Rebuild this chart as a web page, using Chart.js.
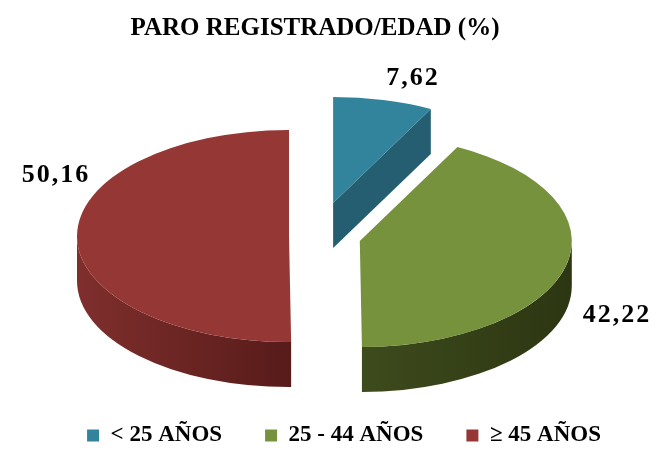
<!DOCTYPE html>
<html>
<head>
<meta charset="utf-8">
<style>
  html, body { margin: 0; padding: 0; background: #fff; }
  #wrap { width: 656px; height: 455px; }
</style>
<script src="https://cdn.jsdelivr.net/npm/chart.js@4/dist/chart.umd.js"></script>
</head>
<body>
<div id="wrap"><canvas id="pie"></canvas></div>
<script>
const categories = ['< 25 AÑOS', '25 - 44 AÑOS', '≥ 45 AÑOS']
const values = [7.62, 42.22, 50.16]

const topColors = ['#31849b', '#76923c', '#953735']
const cutColors = ['#245e70', '#2f3a14', '#571b19']
const rimColors = [
  ['#245e70', '#245e70'],
  ['#3e4b1c', '#2c3612'],
  ['#7f2f2d', '#571b19']
]
const explode = [68, 44, 28] // how far each slice is pulled out of the pie
const labelSpots = [[413, 78], [617, 315], [56, 175]]

const pieX = 317
const pieY = 236
const pieRadius = 212
const tilt = 0.5
const depth = 45
const serif = '"Liberation Serif", serif'

// Chart.js only knows flat pies, so the tilt and the sides are added here
const pie3d = {
  id: 'pie3d',
  afterDatasetsUpdate(chart) {
    chart.getDatasetMeta(0).data.forEach((arc, i) => {
      const mid = (arc.startAngle + arc.endAngle) / 2
      arc.x += Math.cos(mid) * explode[i]
      arc.y += Math.sin(mid) * explode[i]
    })
  },
  beforeDatasetDraw(chart) {
    const { ctx, chartArea } = chart
    const midX = (chartArea.left + chartArea.right) / 2
    const midY = (chartArea.top + chartArea.bottom) / 2
    chart.getDatasetMeta(0).data.forEach((arc, i) => {
      const sx = pieX + arc.x - midX
      const sy = pieY + (arc.y - midY) * tilt
      const r = arc.outerRadius

      // cut face, only visible when it turns towards the viewer
      if (Math.cos(arc.endAngle) > 0.05) {
        const ex = sx + Math.cos(arc.endAngle) * r
        const ey = sy + Math.sin(arc.endAngle) * r * tilt
        ctx.beginPath()
        ctx.moveTo(sx, sy)
        ctx.lineTo(ex, ey)
        ctx.lineTo(ex, ey + depth)
        ctx.lineTo(sx, sy + depth)
        ctx.closePath()
        ctx.fillStyle = cutColors[i]
        ctx.fill()
      }

      // outer rim, front half of the pie only
      const a0 = Math.max(arc.startAngle, 0)
      const a1 = Math.min(arc.endAngle, Math.PI)
      if (a1 > a0) {
        const x0 = sx + Math.cos(a1) * r
        const x1 = sx + Math.cos(a0) * r
        const grad = ctx.createLinearGradient(x0, 0, x1, 0)
        grad.addColorStop(0, rimColors[i][0])
        grad.addColorStop(1, rimColors[i][1])
        ctx.beginPath()
        ctx.ellipse(sx, sy, r, r * tilt, 0, a0, a1)
        ctx.ellipse(sx, sy + depth, r, r * tilt, 0, a1, a0, true)
        ctx.closePath()
        ctx.fillStyle = grad
        ctx.fill()
      }
    })
    ctx.save()
    ctx.translate(pieX, pieY)
    ctx.scale(1, tilt)
    ctx.translate(-midX, -midY)
  },
  afterDatasetDraw(chart) {
    chart.ctx.restore()
  },
  afterDatasetsDraw(chart) {
    const { ctx } = chart
    ctx.save()
    ctx.font = 'bold 26px ' + serif
    ctx.letterSpacing = '2px'
    ctx.fillStyle = '#000'
    ctx.textAlign = 'center'
    ctx.textBaseline = 'middle'
    values.forEach((v, i) => {
      ctx.fillText(v.toFixed(2).replace('.', ','), labelSpots[i][0], labelSpots[i][1])
    })
    ctx.restore()
  },
  afterLayout(chart) {
    // title and legend are not centred on the canvas in the original
    chart.titleBlock.left -= 13
    chart.titleBlock.right -= 13
    chart.legend.left += 16
    chart.legend.right += 16
    chart.legend.top += 2
  }
}

new Chart(document.getElementById('pie'), {
  type: 'pie',
  data: {
    labels: categories,
    datasets: [{
      data: values,
      backgroundColor: topColors,
      borderWidth: 0,
      clip: false
    }]
  },
  options: {
    responsive: true,
    maintainAspectRatio: false,
    animation: false,
    radius: pieRadius,
    plugins: {
      tooltip: { enabled: false },
      title: {
        display: true,
        text: 'PARO REGISTRADO/EDAD (%)',
        color: '#000',
        font: { family: serif, size: 25, weight: 'bold' },
        padding: { top: 14, bottom: 10 }
      },
      legend: {
        position: 'bottom',
        labels: {
          color: '#000',
          font: { family: serif, size: 23, weight: 'bold' },
          boxWidth: 12,
          boxHeight: 12,
          padding: 43
        }
      }
    }
  },
  plugins: [pie3d]
})
</script>
</body>
</html>
